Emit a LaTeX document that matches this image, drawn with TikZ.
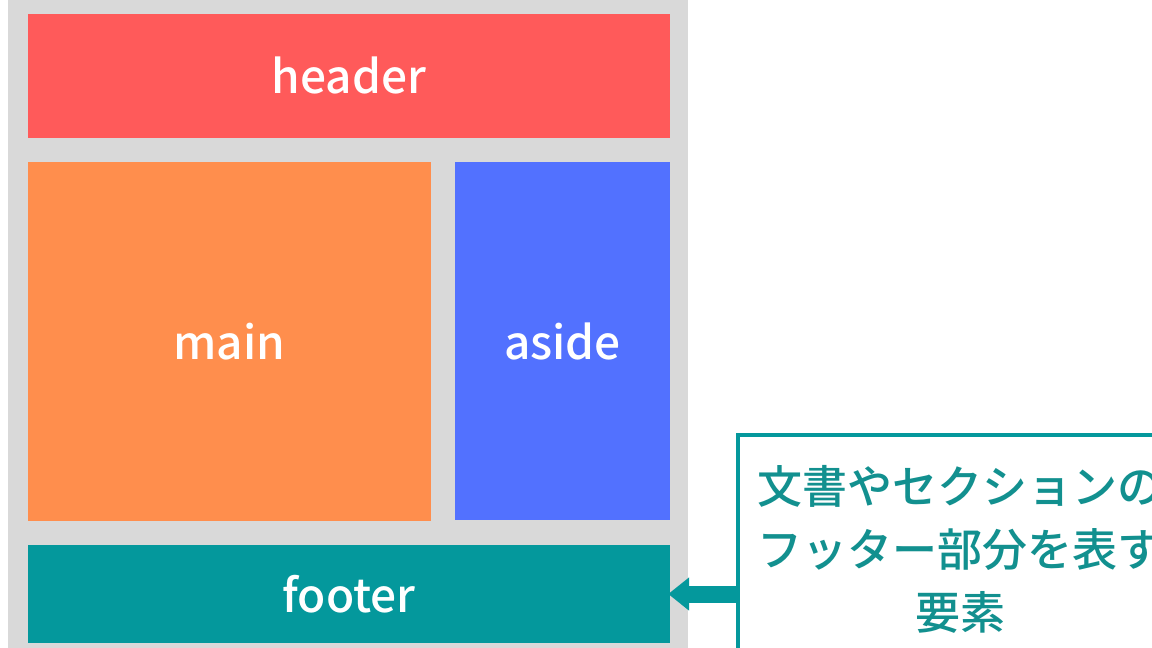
\documentclass[tikz,border=0pt]{standalone}
\usepackage{fontspec}
\setmainfont{Noto Sans CJK JP}
\newfontfamily\jpmed{Noto Sans CJK JP Medium}
\usetikzlibrary{arrows.meta}
\definecolor{bggray}{HTML}{D9D9D9}
\definecolor{hdr}{HTML}{FF5A5A}
\definecolor{mainc}{HTML}{FF8E4D}
\definecolor{asidec}{HTML}{5271FF}
\definecolor{ftr}{HTML}{04989C}
\definecolor{callc}{HTML}{12908F}
\begin{document}
\begin{tikzpicture}[x=1pt,y=-1pt,
  block/.style={fill=#1,draw=none,inner sep=0pt,text=white,font=\jpmed\fontsize{46}{54}\selectfont},
  callout/.style={draw=ftr,line width=4pt,fill=white,inner sep=0pt}]
\useasboundingbox (0,0) rectangle (1152,648);
\fill[bggray] (8,-5) rectangle (688,660);
\node[block=hdr,minimum width=642pt,minimum height=124pt] (header) at (349,75.5) {header};
\node[block=mainc,minimum width=403pt,minimum height=359pt] (main) at (229.5,341.5) {main};
\node[block=asidec,minimum width=215pt,minimum height=358pt] (aside) at (562.5,341) {aside};
\node[block=ftr,minimum width=642pt,minimum height=98pt] (footer) at (349,594) {footer};
\node[callout,minimum width=444pt,minimum height=240pt] (call) at (960,555) {};
\node[text=callc,align=center,font=\jpmed\fontsize{45}{63}\selectfont] (calltext) at (960,549)
  {文書やセクションの\\フッター部分を表す\\要素};
\draw[ftr,line width=17pt,-{Triangle[length=21pt,width=32pt]},shorten <=-1pt,shorten >=-2pt]
  (call.west |- footer.east) -- (footer.east);
\end{tikzpicture}
\end{document}
